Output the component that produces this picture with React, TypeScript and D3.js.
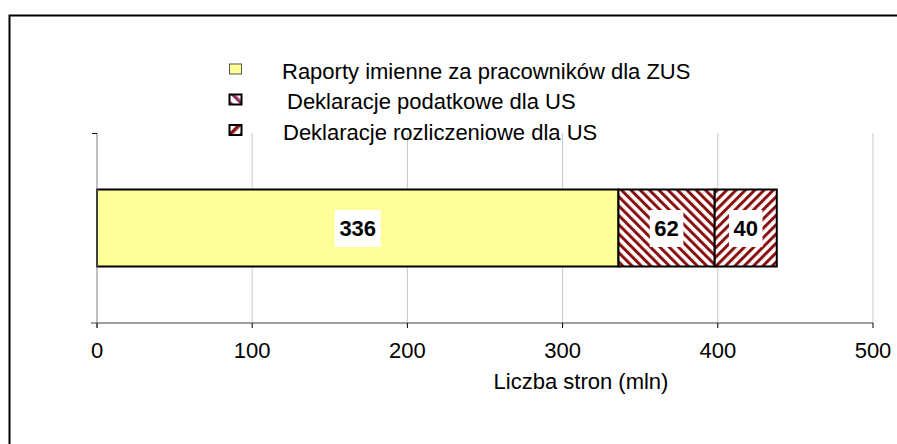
import * as d3 from 'd3';

const WIDTH = 897;
const HEIGHT = 444;

const MARGIN = ({
  top: 133, right: 24, bottom: 121, left: 97,
});

const categories = ['Raporty imienne za pracowników dla ZUS', 'Deklaracje podatkowe dla US', 'Deklaracje rozliczeniowe dla US'];
const values = [336, 62, 40];
const xTicks = [0, 100, 200, 300, 400, 500];
const axisTitle = 'Liczba stron (mln)';

const fills = ['#FFFF99', 'url(#hatchDown)', 'url(#hatchUp)'];
const legendFills = ['#FFFF99', 'url(#legDown)', 'url(#legUp)'];

function App() {
  const x = d3.scaleLinear()
    .domain([0, 500])
    .range([MARGIN.left, WIDTH - MARGIN.right]);

  const y = d3.scaleBand()
    .domain(['row'])
    .range([MARGIN.top, HEIGHT - MARGIN.bottom])
    .paddingInner(0)
    .paddingOuter(0.734);

  const starts = d3.cumsum([0, ...values]);
  const axisY = HEIGHT - MARGIN.bottom;
  const barY = y('row') || 0;
  const barH = y.bandwidth();

  return (
    <div style={{ position: 'absolute', left: 0, top: 0 }}>
      <svg width={WIDTH} height={HEIGHT} style={{ display: 'block', fontFamily: 'Arial, "Liberation Sans", sans-serif' }}>
        <defs>
          <pattern id="hatchDown" patternUnits="userSpaceOnUse" width="6.6" height="6.6" patternTransform="rotate(-45)">
            <rect width="6.6" height="6.6" fill="#fff" />
            <rect width="3" height="6.6" fill="#8B1111" />
          </pattern>
          <pattern id="hatchUp" patternUnits="userSpaceOnUse" width="6.6" height="6.6" patternTransform="rotate(45)">
            <rect width="6.6" height="6.6" fill="#fff" />
            <rect width="3" height="6.6" fill="#8B1111" />
          </pattern>
          <pattern id="legDown" patternUnits="userSpaceOnUse" width="8" height="8" patternTransform="rotate(-45)">
            <rect width="8" height="8" fill="#fff" />
            <rect width="3.5" height="8" fill="#993366" />
          </pattern>
          <pattern id="legUp" patternUnits="userSpaceOnUse" width="8" height="8" patternTransform="rotate(45)">
            <rect width="8" height="8" fill="#fff" />
            <rect width="3.5" height="8" fill="#8B1111" />
          </pattern>
        </defs>

        {/* outer frame, only top and left visible */}
        <path d={`M9.5,${HEIGHT} V15.5 H${WIDTH}`} fill="none" stroke="#000" strokeWidth={2} />

        {/* gridlines */}
        {xTicks.slice(1).map((t) => (
          <line key={t} x1={x(t)} x2={x(t)} y1={MARGIN.top} y2={axisY} stroke="#c8c8c8" strokeWidth={1} />
        ))}

        {/* bars */}
        {values.map((v, i) => (
          <rect
            key={categories[i]}
            x={x(starts[i])}
            y={barY}
            width={x(starts[i] + v) - x(starts[i])}
            height={barH}
            fill={fills[i]}
            stroke="#000"
            strokeWidth={2}
          />
        ))}

        {/* value labels */}
        {values.map((v, i) => {
          const cx = (x(starts[i]) + x(starts[i] + v)) / 2;
          const cy = barY + barH / 2;
          const w = String(v).length * 12.3 + 9;
          return (
            <g key={`lab${i}`}>
              <rect x={cx - w / 2} y={cy - 18} width={w} height={37} fill="#fff" />
              <text x={cx} y={cy} dy="0.36em" textAnchor="middle" fontSize={22} fontWeight="bold" fill="#000">{v}</text>
            </g>
          );
        })}

        {/* axes */}
        <line x1={MARGIN.left} x2={MARGIN.left} y1={MARGIN.top} y2={axisY + 5} stroke="#808080" strokeWidth={1} />
        <line x1={MARGIN.left - 5} x2={MARGIN.left} y1={MARGIN.top + 0.5} y2={MARGIN.top + 0.5} stroke="#000" strokeWidth={1} />
        <line x1={MARGIN.left - 6} x2={x(500)} y1={axisY} y2={axisY} stroke="#808080" strokeWidth={1.5} />
        {xTicks.map((t) => (
          <g key={`t${t}`}>
            <line x1={x(t)} x2={x(t)} y1={axisY} y2={axisY + 5} stroke="#000" strokeWidth={1} />
            <text x={x(t)} y={axisY + 27} dy="0.36em" textAnchor="middle" fontSize={22} fill="#000">{t}</text>
          </g>
        ))}
        <text x={581} y={381} dy="0.36em" textAnchor="middle" fontSize={22} fill="#000">{axisTitle}</text>

        {/* legend */}
        {categories.map((c, i) => {
          const ry = 69 + i * 30.5;
          const tx = [282, 287, 283][i];
          return (
            <g key={`leg${i}`}>
              <rect
                x={229.5}
                y={ry - 5}
                width={12}
                height={10}
                fill={legendFills[i]}
                stroke={i === 0 ? '#555' : '#000'}
                strokeWidth={i === 0 ? 1 : 2}
              />
              <text x={tx} y={ry + 2} dy="0.36em" textAnchor="start" fontSize={22} fill="#000">{c}</text>
            </g>
          );
        })}
      </svg>
    </div>
  );
}

export default App;
